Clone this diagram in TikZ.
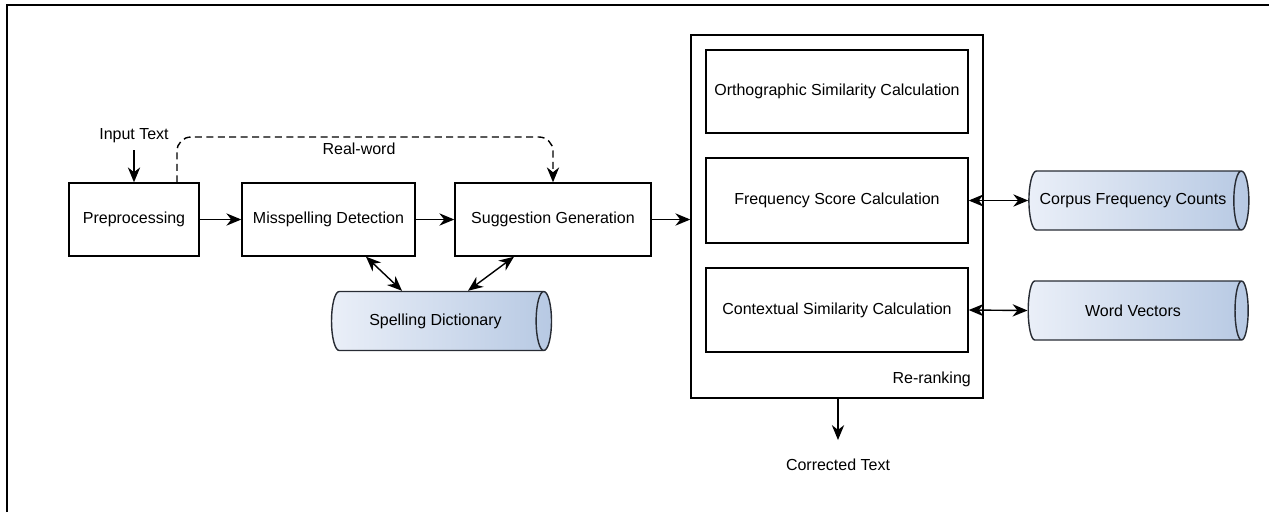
\documentclass[tikz,border=0pt]{standalone}
\usepackage{fontspec}
\setmainfont{Liberation Sans}
\usepackage{xcolor}
\definecolor{db-light}{RGB}{234,239,248}
\definecolor{db-dark}{RGB}{183,201,227}
\definecolor{db-edge}{RGB}{40,44,52}
\usetikzlibrary{positioning,arrows.meta,shapes.geometric}

\begin{document}
\begin{tikzpicture}[
  x=0.02cm, y=-0.02cm,
  font=\fontsize{9.1}{11}\selectfont,
  stage/.style={
    draw, line width=0.8pt,
    minimum height=1.46cm, inner sep=2pt,
    align=center
  },
  subcalc/.style={
    draw, line width=0.8pt,
    minimum width=5.24cm, inner sep=2pt,
    align=center
  },
  store/.style={
    cylinder, draw=db-edge, line width=0.8pt,
    shape border rotate=0, aspect=0.7,
    left color=db-light, right color=db-dark,
    minimum height=4.4cm, minimum width=1.18cm, inner sep=2pt
  },
  flow/.style={
    -{Stealth[length=8.5pt,width=7pt]}, line width=0.8pt
  },
  link/.style={
    {Stealth[length=8.5pt,width=7pt]}-{Stealth[length=8.5pt,width=7pt]}, line width=0.8pt
  }
]

% Frame
\useasboundingbox (0,0) rectangle (1269,512);
\draw[line width=0.9pt] (7,512) -- (7,5) -- (1269,5);

% Pipeline stages
\node[stage, minimum width=2.6cm] (prep) at (134,219.5) {Preprocessing};
\node[stage, minimum width=3.46cm] (detect) at (328.5,219.5) {Misspelling Detection};
\node[stage, minimum width=3.92cm] (suggest) at (553,219.5) {Suggestion Generation};

% Re-ranking block
\node[draw, line width=0.8pt, minimum width=5.84cm, minimum height=7.26cm] (rerank) at (837,216.5) {};
\node[anchor=south east] (rrlabel) at (977,393) {Re-ranking};
\node[subcalc, minimum height=1.66cm] (ortho) at (837,91.5) {Orthographic Similarity Calculation};
\node[subcalc, minimum height=1.7cm] (freq) at (837,200.5) {Frequency Score Calculation};
\node[subcalc, minimum height=1.68cm] (context) at (837,310) {Contextual Similarity Calculation};

% Resources
\node[store] (dict) at (435.5,321) {Spelling Dictionary};
\node[store] (corpus) at (1133,200.5) {Corpus Frequency Counts};
\node[store] (vectors) at (1133,310.5) {Word Vectors};

% Input / output
\node (input) at (134,136) {Input Text};
\node (output) at (838,465) {Corrected Text};
\coordinate (inend) at (134,150);
\coordinate (outstart) at (838,398);

% Connectors
\draw[flow] (inend) -- (prep.north);
\draw[flow] (prep) -- (detect);
\draw[flow] (detect) -- (suggest);
\draw[flow] (suggest.east) -- (suggest.east -| rerank.west);
\draw[flow] (outstart) -- (838,440);
\draw[flow, dash pattern=on 4pt off 2.5pt, rounded corners=8pt] (prep.north -| 177,0) -- (177,137) -- (553,137) -- (suggest.north);
\node (realword) at (359,149) {Real-word};

\draw[link] (detect.south -| 366,0) -- (dict.north -| 402,0);
\draw[link] (suggest.south -| 514,0) -- (dict.north -| 468,0);
\draw[link] (freq.east) -- (corpus.west);
\draw[link] (context.east) -- (vectors.west);

\end{tikzpicture}
\end{document}
